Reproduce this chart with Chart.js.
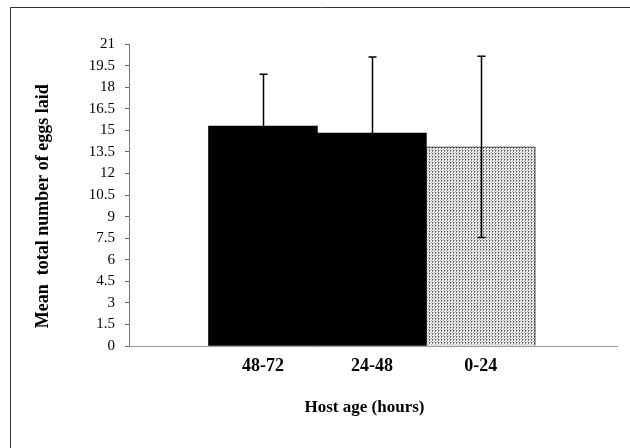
<!DOCTYPE html>
<html><head><meta charset="utf-8">
<script src="https://cdn.jsdelivr.net/npm/chart.js@4/dist/chart.umd.min.js"></script>
<style>html,body{margin:0;padding:0;background:#fff}#wrap{position:relative;width:630px;height:448px}</style>
</head><body><div id="wrap"><canvas id="c" width="630" height="448"></canvas></div>
<script>
const categories = ['48-72', '24-48', '0-24'];
const means = [15.3, 14.8, 13.85];
const errors = [3.6, 5.3, 6.3];
const yTitle = 'Mean  total number of eggs laid';
const xTitle = 'Host age (hours)';

function makePattern() {
  const p = document.createElement('canvas');
  p.width = 3; p.height = 3;
  const g = p.getContext('2d');
  g.fillStyle = '#f2f2f2'; g.fillRect(0, 0, 3, 3);
  g.fillStyle = '#555'; g.fillRect(0, 0, 1, 1);
  g.fillStyle = '#8a8a8a'; g.fillRect(0, 1, 1, 1);
  g.fillStyle = '#aaa'; g.fillRect(2, 2, 1, 1);
  g.fillStyle = '#bbb'; g.fillRect(1, 0, 1, 1);
  return g.createPattern(p, 'repeat');
}

const framePlugin = {
  id: 'frame',
  beforeDraw(chart) {
    const ctx = chart.ctx;
    ctx.save();
    ctx.strokeStyle = '#333';
    ctx.lineWidth = 1;
    ctx.beginPath();
    ctx.moveTo(10.5, 448); ctx.lineTo(10.5, 7.5); ctx.lineTo(630, 7.5);
    ctx.stroke();
    ctx.restore();
  }
};

const errorBarPlugin = {
  id: 'errbars',
  afterDatasetsDraw(chart) {
    const ctx = chart.ctx, xs = chart.scales.x, ys = chart.scales.y;
    ctx.save();
    ctx.strokeStyle = '#000';
    ctx.lineWidth = 1.5;
    means.forEach((m, i) => {
      const x = Math.round(xs.getPixelForValue(i)) + 0.5;
      const yt = ys.getPixelForValue(m + errors[i]);
      const yb = ys.getPixelForValue(m - errors[i]);
      ctx.beginPath();
      ctx.moveTo(x, yt); ctx.lineTo(x, yb);
      ctx.moveTo(x - 4, yt); ctx.lineTo(x + 4, yt);
      ctx.moveTo(x - 4, yb); ctx.lineTo(x + 4, yb);
      ctx.stroke();
    });
    ctx.restore();
  }
};

new Chart(document.getElementById('c'), {
  type: 'bar',
  data: {
    datasets: [{
      data: means.map((v, i) => ({ x: i, y: v })),
      backgroundColor: ['#000', '#000', makePattern()],
      borderColor: ['#000', '#000', '#222'],
      borderWidth: [0, 0, 1],
      barPercentage: 1,
      categoryPercentage: 1
    }]
  },
  options: {
    responsive: false,
    animation: false,
    devicePixelRatio: 1,
    layout: { padding: { top: 44, right: 13, bottom: 0, left: 0 } },
    plugins: { legend: { display: false }, tooltip: { enabled: false } },
    scales: {
      x: {
        type: 'linear',
        offset: false,
        min: -1.23, max: 3.25,
        afterBuildTicks: s => { s.ticks = categories.map((c, i) => ({ value: i })); },
        afterFit: s => { s.height = 448 - 346; },
        grid: { display: true, drawOnChartArea: false, drawTicks: false, offset: false },
        border: { display: true, color: '#999', dash: [1, 3] },
        ticks: {
          autoSkip: false, maxRotation: 0, padding: 10, color: '#000',
          font: { family: 'Liberation Serif', size: 18, weight: 'bold' },
          callback: v => categories[v] ?? ''
        },
        title: {
          display: true, text: xTitle + '\u00a0\u00a0\u00a0\u00a0', color: '#000',
          font: { family: 'Liberation Serif', size: 17, weight: 'bold' },
          padding: { top: 0, bottom: 30 }
        }
      },
      y: {
        min: 0, max: 21,
        afterFit: s => { s.width = 129; },
        grid: { display: true, drawOnChartArea: false, drawTicks: true, tickLength: 4, color: '#666' },
        border: { display: true, color: '#777' },
        ticks: {
          stepSize: 1.5, padding: 10, color: '#000',
          font: { family: 'Liberation Serif', size: 15 }
        },
        title: {
          display: true, text: yTitle + '\u00a0\u00a0\u00a0\u00a0\u00a0', color: '#000',
          font: { family: 'Liberation Serif', size: 18, weight: 'bold' },
          padding: { top: 33, bottom: 0 }
        }
      }
    }
  },
  plugins: [framePlugin, errorBarPlugin]
});
</script></body></html>
